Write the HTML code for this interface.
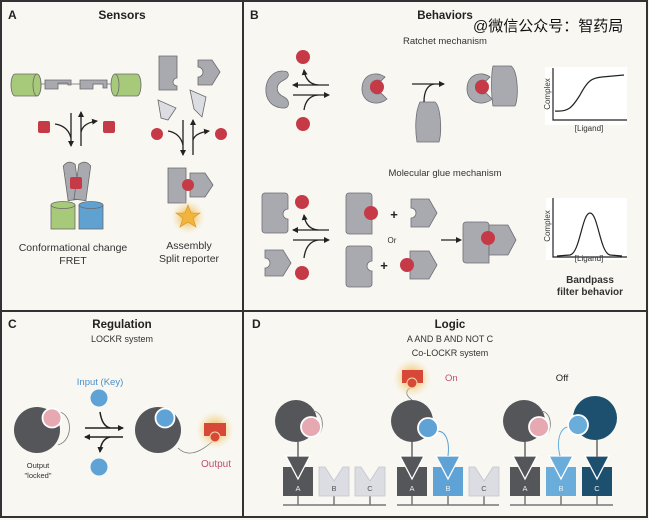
<!DOCTYPE html>
<html><head><meta charset="utf-8"><style>
html,body{margin:0;padding:0;background:#fff}
svg{display:block}
text{font-family:"Liberation Sans","Noto Sans CJK SC",sans-serif}
</style></head><body>
<svg width="649" height="520" viewBox="0 0 649 520" xmlns="http://www.w3.org/2000/svg">
<defs>
<marker id="ah" markerWidth="6" markerHeight="6" refX="5" refY="3" orient="auto" markerUnits="userSpaceOnUse"><path d="M0,0 L6,3 L0,6 Z" fill="#222"/></marker>
<radialGradient id="glow"><stop offset="0.3" stop-color="#f0c060" stop-opacity="0.9"/><stop offset="1" stop-color="#f6e2b0" stop-opacity="0"/></radialGradient>
</defs>
<rect x="0" y="0" width="649" height="520" fill="#f8f7f2"/>
<rect x="1" y="1" width="646" height="516" fill="none" stroke="#333" stroke-width="2"/>
<line x1="243" y1="1" x2="243" y2="517" stroke="#333" stroke-width="2"/>
<line x1="1" y1="311" x2="647" y2="311" stroke="#333" stroke-width="2"/>

<!-- Panel A -->
<text x="8" y="19" font-size="12" font-weight="bold" fill="#222">A</text>
<text x="122" y="19" font-size="12" font-weight="bold" fill="#222" text-anchor="middle">Sensors</text>
<g stroke="#6a6a6a" stroke-width="0.8">
<line x1="35" y1="84" x2="118" y2="84"/>
<path d="M15,74 h22 a4,11 0 0 1 0,22 h-22 a4,11 0 0 1 0,-22z" fill="#a6c97a"/>
<ellipse cx="37" cy="85" rx="4" ry="11" fill="#a6c97a"/>
<path d="M115,74 h22 a4,11 0 0 1 0,22 h-22 z" fill="#a6c97a"/>
<ellipse cx="115" cy="85" rx="4" ry="11" fill="#a6c97a"/>
<path d="M45,80 h26 v5 h-3 v-2 h-10 v6 h-13 z" fill="#a9a9b0"/>
<path d="M80,80 h27 v8 h-4 v-4 h-10 v5 h-13 z" fill="#a9a9b0"/>
</g>
<rect x="38" y="121" width="12" height="12" rx="2" fill="#c63a48"/>
<rect x="103" y="121" width="12" height="12" rx="2" fill="#c63a48"/>
<g stroke="#222" stroke-width="1.3" fill="none">
<line x1="71" y1="113" x2="71" y2="146" marker-end="url(#ah)"/>
<path d="M55,124 Q68,126 71,138"/>
<line x1="81" y1="146" x2="81" y2="112" marker-end="url(#ah)"/>
<path d="M81,132 Q83,123 97,121" marker-end="url(#ah)"/>
</g>
<g stroke="#6a6a6a" stroke-width="0.8">
<path d="M66,165 q6,-6 12,0 v35 h-12z" fill="#a9a9b0" transform="rotate(-8 72 185)"/>
<path d="M76,165 q6,-6 12,0 v35 h-12z" fill="#a9a9b0" transform="rotate(8 82 185)"/>
<rect x="51" y="205" width="24" height="24" fill="#a6c97a"/>
<ellipse cx="63" cy="205" rx="12" ry="3.5" fill="#a6c97a"/>
<rect x="79" y="205" width="24" height="24" fill="#5fa2d2"/>
<ellipse cx="91" cy="205" rx="12" ry="3.5" fill="#5fa2d2"/>
</g>
<rect x="70" y="177" width="12" height="12" rx="2" fill="#c63a48"/>
<text x="73" y="251" font-size="10.5" fill="#333" text-anchor="middle">Conformational change</text>
<text x="73" y="264" font-size="10.5" fill="#333" text-anchor="middle">FRET</text>
<g stroke="#6a6a6a" stroke-width="0.8">
<path d="M159,56 h18 v22 a4,4 0 0 0 0,8 v4 h-18z" fill="#a9a9b0"/>
<path d="M198,60 h14 l8,12 l-8,13 h-14 v-8 a5,5 0 0 0 0,-10z" fill="#a9a9b0"/>
<path d="M158,100 l18,8 l-8,12 l-7,-2 z" fill="#dcdde2"/>
<path d="M190,90 l16,7 l-4,20 l-8,-8 z" fill="#dcdde2"/>
<path d="M168,168 h18 v35 h-18z" fill="#a9a9b0"/>
<path d="M190,173 h15 l8,12 l-8,12 h-15z" fill="#a9a9b0"/>
</g>
<circle cx="157" cy="134" r="6" fill="#c63a48"/><circle cx="221" cy="134" r="6" fill="#c63a48"/>
<g stroke="#222" stroke-width="1.3" fill="none">
<line x1="183" y1="120" x2="183" y2="155" marker-end="url(#ah)"/>
<path d="M168,131 Q180,133 183,145"/>
<line x1="193" y1="155" x2="193" y2="120" marker-end="url(#ah)"/>
<path d="M193,140 Q195,133 209,131" marker-end="url(#ah)"/>
</g>
<circle cx="188" cy="185" r="6" fill="#c63a48"/>
<circle cx="188" cy="217" r="17" fill="url(#glow)"/>
<polygon points="188,205 191,213 200,213 193,218 196,227 188,222 180,227 183,218 176,213 185,213" fill="#f2b43a" stroke="#d39420" stroke-width="0.6"/>
<text x="189" y="249" font-size="10.5" fill="#333" text-anchor="middle">Assembly</text>
<text x="189" y="262" font-size="10.5" fill="#333" text-anchor="middle">Split reporter</text>

<!-- Panel B -->
<text x="250" y="19" font-size="12" font-weight="bold" fill="#222">B</text>
<text x="445" y="19" font-size="11.5" font-weight="bold" fill="#222" text-anchor="middle">Behaviors</text>
<text x="473" y="31" font-size="15" fill="#111">@微信公众号：智药局</text>
<text x="445" y="44" font-size="9.5" fill="#333" text-anchor="middle">Ratchet mechanism</text>
<g fill="#a9a9b0" stroke="#6e6e74" stroke-width="0.8">
<path d="M283,71 C262,70 258,108 284,108 C290,108 290,100 284,97 C275,93 275,84 284,80 C290,77 290,71 283,71z"/>
<path d="M385,77 C375,70 362,75 362,89 C362,103 378,107 387,99 L381,93 A7,7 0 1 1 381,81z"/>
<path d="M420,102 h15 c6,5 7,30 4,40 h-22 c-2,-12 -2,-30 3,-40z"/>
<path d="M490,77 C480,70 467,75 467,89 C467,103 483,107 492,99 L486,93 A7,7 0 1 1 486,81z"/>
<path d="M493,66 h18 c7,5 8,32 4,40 h-22 c-2,-12 -2,-32 0,-40z"/>
</g>
<circle cx="303" cy="57" r="7" fill="#c63a48"/><circle cx="303" cy="124" r="7" fill="#c63a48"/>
<circle cx="377" cy="87" r="7" fill="#c63a48"/><circle cx="482" cy="87" r="7" fill="#c63a48"/>
<g stroke="#222" stroke-width="1.3" fill="none">
<line x1="329" y1="85" x2="293" y2="85" marker-end="url(#ah)"/>
<path d="M318,85 Q306,84 304,70" marker-end="url(#ah)"/>
<line x1="293" y1="95" x2="329" y2="95" marker-end="url(#ah)"/>
<path d="M304,110 Q306,96 318,95"/>
<line x1="412" y1="84" x2="444" y2="84" marker-end="url(#ah)"/>
<path d="M424,102 Q424,86 434,84"/>
</g>
<rect x="545" y="67" width="82" height="58" fill="#fff"/>
<g stroke="#222" stroke-width="1.2" fill="none">
<polyline points="553,68 553,120 627,120"/>
<path d="M555,111 C568,112 572,108 580,95 C588,80 592,78 602,77 L624,75"/>
</g>
<text x="550" y="94" font-size="8" fill="#333" text-anchor="middle" transform="rotate(-90 550 94)">Complex</text>
<text x="589" y="131" font-size="8" fill="#333" text-anchor="middle">[Ligand]</text>

<text x="445" y="176" font-size="9.5" fill="#333" text-anchor="middle">Molecular glue mechanism</text>
<g fill="#a9a9b0" stroke="#6e6e74" stroke-width="0.8">
<path d="M265,193 h20 a3,3 0 0 1 3,3 v13 a5,5 0 0 0 0,10 v11 a3,3 0 0 1 -3,3 h-20 a3,3 0 0 1 -3,-3 v-34 a3,3 0 0 1 3,-3z"/>
<path d="M265,250 h18 l8,13 l-8,13 h-18 v-8 a5,5 0 0 0 0,-10z"/>
<path d="M349,193 h20 a3,3 0 0 1 3,3 v38 h-23 a3,3 0 0 1 -3,-3 v-35 a3,3 0 0 1 3,-3z"/>
<path d="M411,199 h18 l8,14 l-8,14 h-18 v-9 a5,5 0 0 0 0,-10z"/>
<path d="M349,246 h20 a3,3 0 0 1 3,3 v12 a5,5 0 0 0 0,10 v13 a3,3 0 0 1 -3,3 h-20 a3,3 0 0 1 -3,-3 v-35 a3,3 0 0 1 3,-3z"/>
<path d="M410,251 h19 l8,14 l-8,14 h-19 z"/>
<path d="M466,222 h20 a3,3 0 0 1 3,3 v38 h-23 a3,3 0 0 1 -3,-3 v-35 a3,3 0 0 1 3,-3z"/>
<path d="M489,225 h19 l8,15 l-8,15 h-19 z"/>
</g>
<circle cx="302" cy="202" r="7" fill="#c63a48"/><circle cx="302" cy="273" r="7" fill="#c63a48"/>
<circle cx="371" cy="213" r="7" fill="#c63a48"/><circle cx="407" cy="265" r="7" fill="#c63a48"/>
<circle cx="488" cy="238" r="7" fill="#c63a48"/>
<text x="394" y="219" font-size="13" font-weight="bold" fill="#222" text-anchor="middle">+</text>
<text x="384" y="270" font-size="13" font-weight="bold" fill="#222" text-anchor="middle">+</text>
<text x="392" y="243" font-size="8" fill="#333" text-anchor="middle">Or</text>
<g stroke="#222" stroke-width="1.3" fill="none">
<line x1="329" y1="230" x2="293" y2="230" marker-end="url(#ah)"/>
<path d="M318,230 Q306,229 304,215" marker-end="url(#ah)"/>
<line x1="293" y1="240" x2="329" y2="240" marker-end="url(#ah)"/>
<path d="M304,258 Q306,242 318,240"/>
<line x1="441" y1="240" x2="461" y2="240" marker-end="url(#ah)"/>
</g>
<rect x="546" y="198" width="81" height="62" fill="#fff"/>
<g stroke="#222" stroke-width="1.2" fill="none">
<polyline points="553,198 553,257 627,257"/>
<path d="M557,256 L570,255 C580,253 582,213 590,213 C598,213 600,253 610,255 L622,256"/>
</g>
<text x="550" y="226" font-size="8" fill="#333" text-anchor="middle" transform="rotate(-90 550 226)">Complex</text>
<text x="589" y="261" font-size="8" fill="#333" text-anchor="middle">[Ligand]</text>
<text x="590" y="283" font-size="10" font-weight="bold" fill="#333" text-anchor="middle">Bandpass</text>
<text x="590" y="295" font-size="10" font-weight="bold" fill="#333" text-anchor="middle">filter behavior</text>

<!-- Panel C -->
<text x="8" y="328" font-size="12" font-weight="bold" fill="#222">C</text>
<text x="122" y="328" font-size="11.5" font-weight="bold" fill="#222" text-anchor="middle">Regulation</text>
<text x="122" y="342" font-size="9" fill="#333" text-anchor="middle">LOCKR system</text>
<text x="100" y="385" font-size="9.5" fill="#4a8fcb" text-anchor="middle">Input (Key)</text>
<circle cx="99" cy="398" r="8.5" fill="#5fa2d6"/>
<circle cx="99" cy="467" r="8.5" fill="#5fa2d6"/>
<circle cx="37" cy="430" r="23" fill="#55565a"/>
<path d="M56,412 C72,410 75,440 58,445" fill="none" stroke="#777" stroke-width="0.8"/>
<circle cx="52" cy="418" r="9.5" fill="#e6a9b2" stroke="#fff" stroke-width="1.8"/>
<text x="38" y="468" font-size="7.5" fill="#333" text-anchor="middle">Output</text>
<text x="38" y="478" font-size="7.5" fill="#333" text-anchor="middle">"locked"</text>
<g stroke="#222" stroke-width="1.5" fill="none">
<line x1="85" y1="428" x2="123" y2="428" marker-end="url(#ah)"/>
<path d="M100,412 Q102,426 110,428"/>
<line x1="123" y1="437" x2="85" y2="437" marker-end="url(#ah)"/>
<path d="M110,437 Q101,439 100,452" marker-end="url(#ah)"/>
</g>
<circle cx="158" cy="430" r="23" fill="#55565a"/>
<circle cx="165" cy="418" r="9.5" fill="#5fa2d6" stroke="#fff" stroke-width="1.8"/>
<path d="M178,448 C190,460 205,448 213,441" fill="none" stroke="#777" stroke-width="0.8"/>
<circle cx="215" cy="430" r="19" fill="url(#glow)"/>
<rect x="204" y="423" width="22" height="13" fill="#d84838"/>
<circle cx="215" cy="437" r="5" fill="#d84838" stroke="#f4d9a8" stroke-width="1"/>
<text x="216" y="467" font-size="10" fill="#c0506a" text-anchor="middle">Output</text>

<!-- Panel D -->
<text x="252" y="328" font-size="12" font-weight="bold" fill="#222">D</text>
<text x="450" y="328" font-size="11.5" font-weight="bold" fill="#222" text-anchor="middle">Logic</text>
<text x="450" y="342" font-size="9" fill="#333" text-anchor="middle">A AND B AND NOT C</text>
<text x="450" y="356" font-size="9" fill="#333" text-anchor="middle">Co-LOCKR system</text>
<text x="445" y="381" font-size="9.5" fill="#c0506a">On</text>
<text x="562" y="381" font-size="9.5" fill="#222" text-anchor="middle">Off</text>

<!-- bottom lines -->
<g stroke="#777" stroke-width="1.5">
<line x1="283" y1="505" x2="386" y2="505"/><line x1="397" y1="505" x2="499" y2="505"/><line x1="510" y1="505" x2="613" y2="505"/>
<line x1="298" y1="496" x2="298" y2="505"/><line x1="334" y1="496" x2="334" y2="505"/><line x1="370" y1="496" x2="370" y2="505"/>
<line x1="412" y1="496" x2="412" y2="505"/><line x1="448" y1="496" x2="448" y2="505"/><line x1="484" y1="496" x2="484" y2="505"/>
<line x1="525" y1="496" x2="525" y2="505"/><line x1="561" y1="496" x2="561" y2="505"/><line x1="597" y1="496" x2="597" y2="505"/>
</g>
<!-- inactive blocks -->
<g fill="#dcdde3" stroke="#c4c5cc" stroke-width="0.8">
<path d="M319,467 h6 l9,14 l9,-14 h6 v29 h-30z"/>
<path d="M355,467 h6 l9,14 l9,-14 h6 v29 h-30z"/>
<path d="M469,467 h6 l9,14 l9,-14 h6 v29 h-30z"/>
</g>
<!-- active blocks -->
<g stroke="#fff" stroke-width="1.3">
<rect x="283" y="467" width="30" height="29" fill="#55565a" stroke="none"/>
<polygon points="286,456 310,456 298,479" fill="#55565a"/>
<rect x="397" y="467" width="30" height="29" fill="#55565a" stroke="none"/>
<polygon points="400,456 424,456 412,479" fill="#55565a"/>
<rect x="433" y="467" width="30" height="29" fill="#5fa2d6" stroke="none"/>
<polygon points="436,456 460,456 448,479" fill="#5fa2d6"/>
<rect x="510" y="467" width="30" height="29" fill="#55565a" stroke="none"/>
<polygon points="513,456 537,456 525,479" fill="#55565a"/>
<rect x="546" y="467" width="30" height="29" fill="#6aaddb" stroke="none"/>
<polygon points="549,456 573,456 561,479" fill="#6aaddb"/>
<rect x="582" y="467" width="30" height="29" fill="#1d4f6e" stroke="none"/>
<polygon points="585,456 609,456 597,479" fill="#1d4f6e"/>
</g>
<g font-size="7.5" fill="#eee" text-anchor="middle">
<text x="298" y="491">A</text><text x="334" y="491" fill="#555">B</text><text x="370" y="491" fill="#555">C</text>
<text x="412" y="491">A</text><text x="448" y="491">B</text><text x="484" y="491" fill="#555">C</text>
<text x="525" y="491">A</text><text x="561" y="491">B</text><text x="597" y="491">C</text>
</g>
<!-- stems -->
<g stroke="#666" stroke-width="1.5">
<line x1="298" y1="440" x2="298" y2="457"/><line x1="412" y1="440" x2="412" y2="457"/>
<line x1="525" y1="440" x2="525" y2="457"/><line x1="597" y1="436" x2="597" y2="457"/>
</g>
<!-- circles -->
<circle cx="296" cy="421" r="21" fill="#55565a"/>
<path d="M313,411 C325,412 324,432 318,434" fill="none" stroke="#777" stroke-width="0.8"/>
<circle cx="311" cy="427" r="10" fill="#e6a9b2" stroke="#fff" stroke-width="1.8"/>
<circle cx="412" cy="421" r="21" fill="#55565a"/>
<path d="M412,400 C405,395 405,390 412,387" fill="none" stroke="#777" stroke-width="0.8"/>
<circle cx="412" cy="378" r="19" fill="url(#glow)"/>
<rect x="402" y="370" width="21" height="13" fill="#d84838"/>
<circle cx="412" cy="383" r="5" fill="#d84838" stroke="#f4d9a8" stroke-width="1"/>
<path d="M434,432 C445,428 450,440 448,456" fill="none" stroke="#5fa2d6" stroke-width="1"/>
<circle cx="428" cy="428" r="10" fill="#5fa2d6" stroke="#fff" stroke-width="1.8"/>
<circle cx="524" cy="421" r="21" fill="#55565a"/>
<path d="M541,411 C553,412 552,432 546,434" fill="none" stroke="#777" stroke-width="0.8"/>
<circle cx="539" cy="427" r="10" fill="#e6a9b2" stroke="#fff" stroke-width="1.8"/>
<circle cx="595" cy="418" r="22" fill="#1d4f6e"/>
<path d="M572,427 C560,425 556,440 560,456" fill="none" stroke="#6aaddb" stroke-width="1"/>
<circle cx="578" cy="425" r="10" fill="#6aaddb" stroke="#fff" stroke-width="1.8"/>
</svg>
</body></html>
